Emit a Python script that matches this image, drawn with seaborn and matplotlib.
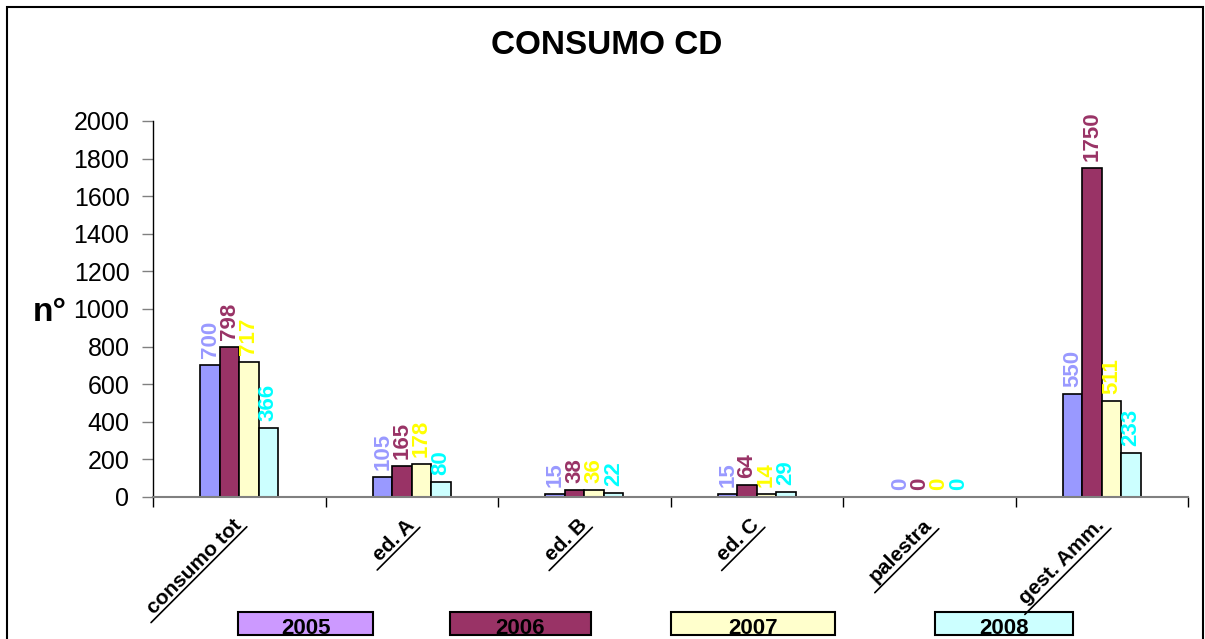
import numpy as np
import pandas as pd
import matplotlib.pyplot as plt
import matplotlib.patches as mpatches
import matplotlib.lines as mlines
import seaborn as sns

# data
categories = ['consumo tot', 'ed. A', 'ed. B', 'ed. C', 'palestra', 'gest. Amm.']
years = ['2005', '2006', '2007', '2008']
v2005 = [700, 105, 15, 15, 0, 550]
v2006 = [798, 165, 38, 64, 0, 1750]
v2007 = [717, 178, 36, 14, 0, 511]
v2008 = [366, 80, 22, 29, 0, 233]

bar_colors = ['#9999FF', '#993366', '#FFFFCC', '#CCFFFF']
label_colors = ['#9999FF', '#993366', '#FFFF00', '#00FFFF']
legend_colors = ['#CC99FF', '#993366', '#FFFFCC', '#CCFFFF']

df = pd.DataFrame({
    'categoria': categories * 4,
    'anno': [y for y in years for _ in categories],
    'valore': v2005 + v2006 + v2007 + v2008,
})

sns.set_theme(style="white")
plt.rcParams['font.family'] = ['Liberation Sans', 'DejaVu Sans']
plt.rcParams['text.color'] = 'black'
plt.rcParams['xtick.color'] = 'black'
plt.rcParams['ytick.color'] = 'black'
plt.rcParams['axes.labelcolor'] = 'black'

W, H = 1205, 639
fig = plt.figure(figsize=(W / 100, H / 100), dpi=100)
ax = fig.add_axes([153 / W, 1 - 497 / H, (1188 - 153) / W, (497 - 121) / H])

sns.barplot(data=df, x='categoria', y='valore', hue='anno', order=categories,
            hue_order=years, palette=bar_colors, saturation=1, width=0.45,
            edgecolor='black', linewidth=1.2, legend=False, ax=ax)

for cont, col in zip(ax.containers, label_colors):
    ax.bar_label(cont, fmt='%g', padding=5, rotation=90, color=col,
                 fontsize=16, fontweight='bold')

ax.set_xlim(-0.5, len(categories) - 0.5)
ax.set_ylim(0, 2000)
ax.set_yticks(range(0, 2001, 200))
ax.tick_params(axis='y', labelsize=18, length=8, width=1, color='#808080',
               labelcolor='black', direction='out', left=True, pad=9)
ax.set_ylabel('n°', fontsize=24, fontweight='bold', rotation=0, color='black')
ax.yaxis.set_label_coords(-0.1, 0.45)
ax.set_xlabel('')

# category labels rotated, ticks at category boundaries
ax.set_xticks(range(len(categories)))
ax.set_xticklabels(categories, rotation=45, ha='right', va='center',
                   rotation_mode='anchor', fontsize=15, fontweight='bold')
ax.tick_params(axis='x', length=0, pad=18, labelcolor='black')
ax.set_xticks([i - 0.5 for i in range(len(categories) + 1)], minor=True)
ax.tick_params(axis='x', which='minor', length=7, width=1, color='black', bottom=True)

for side in ['top', 'right']:
    ax.spines[side].set_visible(False)
ax.spines['left'].set_color('black')
ax.spines['bottom'].set_color('#808080')
ax.spines['left'].set_linewidth(1)
ax.spines['bottom'].set_linewidth(1.5)

fig.text(607 / W, 1 - 46 / H, 'CONSUMO CD', ha='center', va='center',
         fontsize=24, fontweight='bold', color='black')

# underline under each rotated category label
fig.canvas.draw()
renderer = fig.canvas.get_renderer()
u = np.array([np.cos(np.pi / 4), np.sin(np.pi / 4)])
n = np.array([np.sin(np.pi / 4), -np.cos(np.pi / 4)])
for lbl in ax.get_xticklabels():
    L, h, d = renderer.get_text_width_height_descent(lbl.get_text(), lbl.get_fontproperties(), ismath=False)
    p = np.array(lbl.get_transform().transform(lbl.get_position()))
    off = h / 2 + 2
    start = p - u * (L + 8) + n * off
    end = p + u * 2 + n * off
    pts = fig.transFigure.inverted().transform([start, end])
    fig.lines.append(mlines.Line2D(pts[:, 0], pts[:, 1], transform=fig.transFigure,
                                   color='black', linewidth=1.2))

# legend boxes along the bottom edge
legend_boxes = [(238, 135), (450, 141), (671, 164), (935, 138)]
for (x0, w), yr, col in zip(legend_boxes, years, legend_colors):
    rect = mpatches.Rectangle((x0 / W, 1 - 635 / H), w / W, 23 / H,
                              transform=fig.transFigure, facecolor=col,
                              edgecolor='black', linewidth=1.5)
    fig.patches.append(rect)
    t = fig.text((x0 + w / 2) / W, 1 - 618 / H, yr, ha='center', va='top',
                 fontsize=16, fontweight='bold', color='black')
    t.set_clip_path(rect)

# outer frame of the chart area
frame = mpatches.Rectangle((7 / W, -0.1), (1203 - 7) / W, 1.1 - 7 / H,
                           transform=fig.transFigure, fill=False,
                           edgecolor='black', linewidth=1.5)
fig.patches.append(frame)

plt.savefig('out.png', dpi=100)
plt.close()
